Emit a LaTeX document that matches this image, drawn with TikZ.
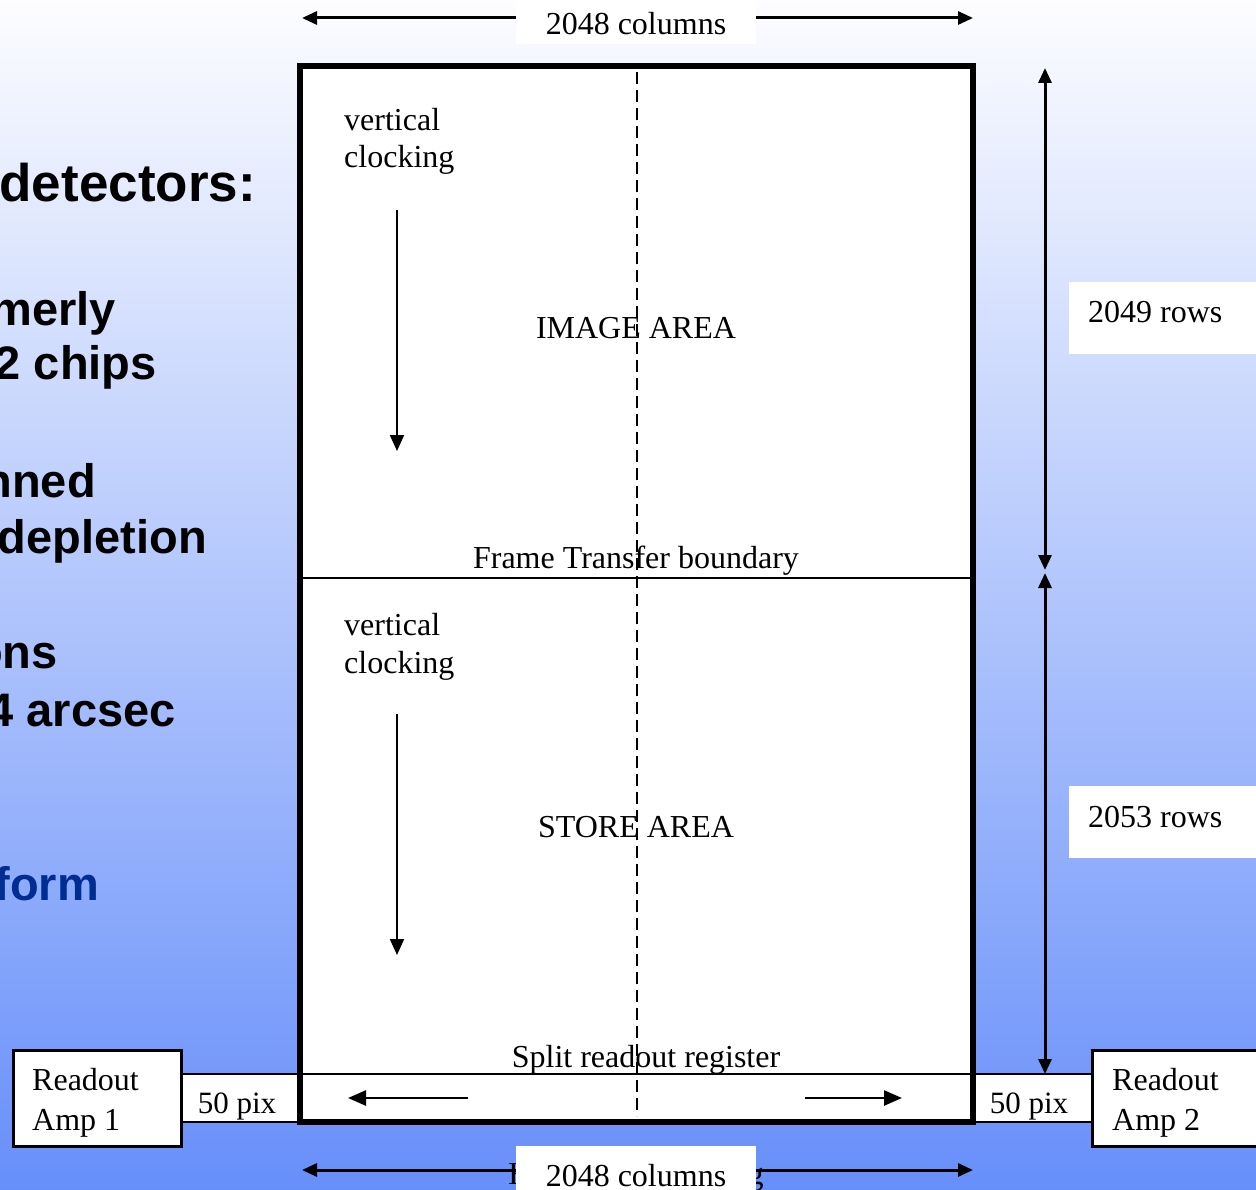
\documentclass[tikz,border=0pt]{standalone}
\usepackage{fontspec}
\setmainfont{Liberation Serif}
\newfontfamily\sansb{Liberation Sans}
\usetikzlibrary{arrows.meta}
\definecolor{bgtop}{RGB}{253,253,255}
\definecolor{bgbot}{RGB}{103,143,250}
\definecolor{formblue}{RGB}{0,45,145}
\begin{document}
\begin{tikzpicture}[x=1pt,y=-1pt,
  lbl/.style={inner sep=0pt,font=\fontsize{32}{38}\selectfont},
  bullet/.style={inner sep=0pt,anchor=base east,font=\sansb\bfseries\fontsize{47}{55}\selectfont},
  dimarrow/.style={line width=3pt,{Triangle[length=15pt,width=13pt]}-{Triangle[length=15pt,width=13pt]}},
  clkarrow/.style={line width=2pt,-{Triangle[length=16pt,width=14pt]}},
  regarrow/.style={line width=2.5pt,-{Triangle[length=18pt,width=15pt]}},
  ampbox/.style={fill=white,draw=black,line width=3pt}]
\useasboundingbox (0,0) rectangle (1256,1190);
\shade[top color=bgtop,bottom color=bgbot] (0,0) rectangle (1256,1190);

% left bullet text (cut off)
\node[bullet,font=\sansb\bfseries\fontsize{53}{61}\selectfont] (t1) at (256,202) {detectors:};
\node[bullet] (t2) at (116,326) {merly};
\node[bullet] (t3) at (157,380) {2 chips};
\node[bullet] (t4) at (96,497) {nned};
\node[bullet] (t5) at (207,553) {depletion};
\node[bullet] (t6) at (58,668) {ons};
\node[bullet] (t7) at (176,726) {4 arcsec};
\node[bullet,text=formblue] (t8) at (99,900) {form};

% top dimension
\coordinate (tl) at (302,18); \coordinate (tr) at (973,18);
\draw[dimarrow] (tl) -- (tr);
\fill[white] (516,0) rectangle (756,44);
\node[lbl,anchor=base] (topcols) at (636,35) {2048 columns};

% bottom dimension
\coordinate (bl) at (302,1170); \coordinate (br) at (973,1170);
\draw[dimarrow] (bl) -- (br);
\node[lbl,anchor=base] (hclk) at (636,1184) {Horizontal clocking};
\fill[white] (516,1146) rectangle (756,1190);
\node[lbl,anchor=base] (botcols) at (636,1186) {2048 columns};

% right dimensions
\coordinate (v1) at (1045,68); \coordinate (v2) at (1045,570);
\coordinate (v3) at (1045,573); \coordinate (v4) at (1045,1074);
\draw[dimarrow] (v1) -- (v2);
\draw[dimarrow] (v3) -- (v4);
\fill[white] (1069,282) rectangle (1256,354);
\node[lbl,anchor=base west] (r1) at (1088,323) {2049 rows};
\fill[white] (1069,786) rectangle (1256,858);
\node[lbl,anchor=base west] (r2) at (1088,827) {2053 rows};

% main chip
\fill[white] (300,66) rectangle (973,1122);
\draw[line width=2.5pt] (300,578) -- (973,578);
\draw[line width=2.5pt] (300,1074) -- (973,1074);

% side 50 pix boxes
\draw[fill=white,line width=2pt] (181,1074) rectangle (300,1122);
\draw[fill=white,line width=2pt] (973,1074) rectangle (1092,1122);
\node[lbl,anchor=base,font=\fontsize{31}{37}\selectfont] (p1) at (237,1113) {50 pix};
\node[lbl,anchor=base,font=\fontsize{31}{37}\selectfont] (p2) at (1029,1113) {50 pix};

% readout amps
\draw[ampbox] (13,1050) rectangle (181,1146);
\node[lbl,anchor=base west] (ra1) at (32,1090) {Readout};
\node[lbl,anchor=base west] (ra1b) at (32,1130) {Amp 1};
\draw[ampbox] (1092,1050) rectangle (1264,1146);
\node[lbl,anchor=base west] (ra2) at (1112,1090) {Readout};
\node[lbl,anchor=base west] (ra2b) at (1112,1130) {Amp 2};

% labels inside
\node[lbl,anchor=base west] (vc1) at (344,131) {vertical};
\node[lbl,anchor=base west] (cl1) at (344,168) {clocking};
\coordinate (c1s) at (397,210); \coordinate (c1e) at (397,451);
\draw[clkarrow] (c1s) -- (c1e);
\node[lbl,anchor=base west] (vc2) at (344,635) {vertical};
\node[lbl,anchor=base west] (cl2) at (344,673) {clocking};
\coordinate (c2s) at (397,714); \coordinate (c2e) at (397,955);
\draw[clkarrow] (c2s) -- (c2e);

\node[lbl,anchor=base] (img) at (636,338) {IMAGE AREA};
\node[lbl,anchor=base] (ftb) at (636,568) {Frame Transfer boundary};
\node[lbl,anchor=base] (sto) at (636,837) {STORE AREA};
\node[lbl,anchor=base] (srr) at (646,1067) {Split readout register};

% register arrows
\coordinate (la1) at (468,1098); \coordinate (la2) at (348,1098);
\coordinate (ra1s) at (805,1098); \coordinate (ra1e) at (902,1098);
\draw[regarrow] (la1) -- (la2);
\draw[regarrow] (ra1s) -- (ra1e);

% dashed center line
\coordinate (d1) at (637,72); \coordinate (d2) at (637,1116);
\draw[line width=2.8pt,dash pattern=on 12pt off 6pt] (d1) -- (d2);

% thick border
\draw[line width=6pt] (300,66) rectangle (973,1122);
\end{tikzpicture}
\end{document}
